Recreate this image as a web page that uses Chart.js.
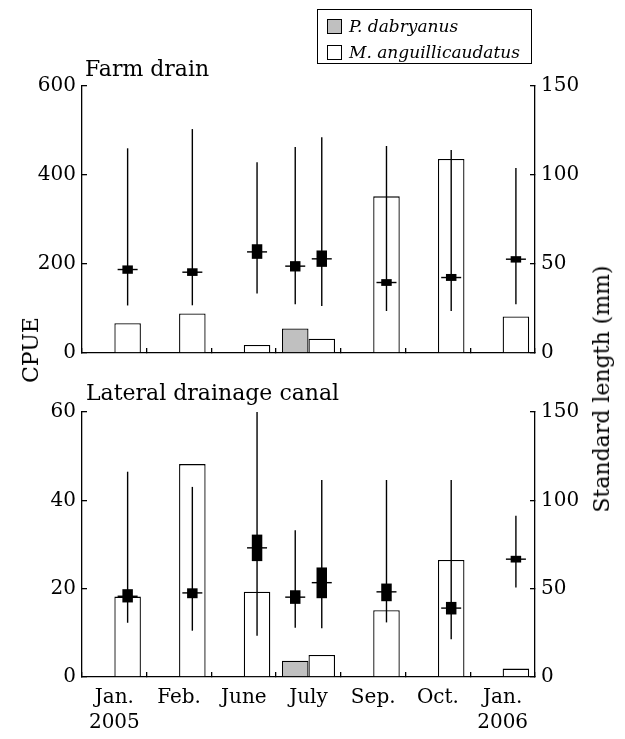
<!DOCTYPE html>
<html>
<head>
<meta charset="utf-8">
<script src="https://cdn.jsdelivr.net/npm/chart.js@4.4.1/dist/chart.umd.min.js"></script>
<style>
  body { margin: 0; background: #fff; }
  #wrap { position: relative; width: 625px; height: 739px; font-family: "DejaVu Serif", serif; color: #000; overflow: hidden; }
  #wrap canvas { position: absolute; left: 0; }
  .panel-title { position: absolute; font-size: 22px; line-height: 22px; white-space: nowrap; }
  .axis-title { position: absolute; font-size: 22px; line-height: 22px; white-space: nowrap;
    transform: translate(-50%, -50%) rotate(-90deg); }
  .legend { position: absolute; left: 317px; top: 9px; width: 213px; height: 53px; border: 1px solid #000; }
  .legend .row { position: absolute; left: 9px; height: 20px; display: flex; align-items: center;
    font-style: italic; font-size: 17px; white-space: nowrap; }
  .legend .sw { display: inline-block; width: 13px; height: 13px; border: 1px solid #000; margin-right: 7px; }
</style>
</head>
<body>
<div id="wrap">
  <canvas id="farm" width="625" height="377" style="top:0"></canvas>
  <canvas id="lateral" width="625" height="379" style="top:360px"></canvas>
  <div class="panel-title" style="left:85px; top:58px">Farm drain</div>
  <div class="panel-title" style="left:86px; top:382px">Lateral drainage canal</div>
  <div class="axis-title" style="left:31px; top:350px">CPUE</div>
  <div class="axis-title" style="left:602px; top:389px">Standard length (mm)</div>
  <div class="legend" id="legend"></div>
</div>
<script>
// categories + species
const months = [["Jan.", "2005"], "Feb.", "June", "July", "Sep.", "Oct.", ["Jan.", "2006"]];
const speciesNames = ["P. dabryanus", "M. anguillicaudatus"];
const speciesFill = ["#c0c0c0", "#ffffff"];

// Farm drain: CPUE
const farmCpueP = [null, null, null, 55, null, null, null];
const farmCpueM = [67, 89, 18, 32, 352, 436, 82];
// Farm drain: standard length (mm) - range, box, mean
const farmMinP  = [null, null, null, 27.4, null, null, null];
const farmMaxP  = [null, null, null, 115.7, null, null, null];
const farmLoP   = [null, null, null, 45.8, null, null, null];
const farmHiP   = [null, null, null, 51.6, null, null, null];
const farmMeanP = [null, null, null, 48.8, null, null, null];
const farmMinM  = [26.7, 26.8, 33.4, 26.4, 23.6, 23.6, 27.4];
const farmMaxM  = [115, 125.8, 107.1, 121.2, 116.3, 114, 103.9];
const farmLoM   = [44.5, 43.3, 52.9, 48.4, 37.7, 40.5, 50.8];
const farmHiM   = [49.2, 47.6, 61.1, 57.6, 41.5, 44.4, 54.4];
const farmMeanM = [46.9, 45.4, 56.8, 52.9, 39.6, 42.4, 52.7];

// Lateral drainage canal: CPUE
const latCpueP = [null, null, null, 3.7, null, null, null];
const latCpueM = [18.2, 48.2, 19.3, 5.0, 15.1, 26.5, 1.9];
// Lateral drainage canal: standard length (mm)
const latMinP  = [null, null, null, 27.9, null, null, null];
const latMaxP  = [null, null, null, 83, null, null, null];
const latLoP   = [null, null, null, 41.4, null, null, null];
const latHiP   = [null, null, null, 49.1, null, null, null];
const latMeanP = [null, null, null, 45.2, null, null, null];
const latMinM  = [30.7, 26.2, 23.4, 27.6, 30.9, 21.4, 50.6];
const latMaxM  = [116.2, 107.6, 150, 111.5, 111.5, 111.5, 91.3];
const latLoM   = [42.2, 44.6, 65.6, 44.6, 42.9, 35.4, 64.8];
const latHiM   = [49.7, 50.2, 80.6, 62, 52.9, 42.5, 68.6];
const latMeanM = [45.7, 47.6, 73.1, 53.4, 48.2, 39, 66.7];

Chart.defaults.font.family = "'DejaVu Serif', serif";
Chart.defaults.font.size = 20;
Chart.defaults.color = "#000";

const CAT_PCT = 0.82;
const AXIS_W = 1.3;

// legend
const legend = document.getElementById("legend");
speciesNames.forEach((name, i) => {
  const row = document.createElement("div");
  row.className = "row";
  row.style.top = (6 + i * 26) + "px";
  row.innerHTML = `<span class="sw" style="background:${speciesFill[i]}"></span>${name}`;
  legend.appendChild(row);
});

function cpueSet(stack, data, fill) {
  return {
    data, stack, yAxisID: "y", order: 3,
    backgroundColor: fill, borderColor: "#000", borderWidth: 1.3, borderSkipped: "start",
    categoryPercentage: CAT_PCT, barPercentage: 1,
  };
}

// length markers: thin range line, black box, mean tick
function markerSets(stack, mins, maxs, los, his, means) {
  const rng = mins.map((v, i) => (v == null ? null : [v, maxs[i]]));
  const box = los.map((v, i) => (v == null ? null : [v, his[i]]));
  const tick = means.map((v) => (v == null ? null : [v - 0.4, v + 0.4]));
  return [
    { data: rng, maxBarThickness: 1.4, order: 2 },
    { data: box, maxBarThickness: 10.5, order: 1 },
    { data: tick, maxBarThickness: 20, order: 0 },
  ].map((d) => Object.assign(d, {
    stack, yAxisID: "y2", backgroundColor: "#000", borderWidth: 0,
    categoryPercentage: CAT_PCT, barPercentage: 1,
  }));
}

function yAxis(pos, max, step, width) {
  return {
    position: pos, min: 0, max, stacked: false,
    ticks: { stepSize: step, padding: 11, color: "#000" },
    grid: { drawOnChartArea: false, tickLength: -5, color: "#000", lineWidth: AXIS_W },
    border: { color: "#000", width: AXIS_W },
    afterFit: (s) => { s.width = width; },
  };
}

function makePanel(id, padTop, xHeight, showLabels, cpueMax, cpueStep, datasets) {
  return new Chart(document.getElementById(id), {
    type: "bar",
    data: { labels: months, datasets },
    options: {
      responsive: false,
      animation: false,
      events: [],
      layout: { padding: { top: padTop, left: 0, right: 0, bottom: 0 } },
      plugins: { legend: { display: false }, tooltip: { enabled: false } },
      scales: {
        x: {
          offset: true,
          ticks: { display: showLabels, padding: 13, maxRotation: 0, autoSkip: false,
                   font: { size: 20, lineHeight: 1.25 } },
          grid: { offset: true, drawOnChartArea: false, tickLength: -5, color: "#000", lineWidth: AXIS_W },
          border: { color: "#000", width: AXIS_W },
          afterFit: (s) => { s.height = xHeight; },
        },
        y: yAxis("left", cpueMax, cpueStep, 82),
        y2: yAxis("right", 150, 50, 90),
      },
    },
  });
}

makePanel("farm", 86, 24, false, 600, 200, [
  cpueSet("P", farmCpueP, speciesFill[0]),
  cpueSet("M", farmCpueM, speciesFill[1]),
  ...markerSets("P", farmMinP, farmMaxP, farmLoP, farmHiP, farmMeanP),
  ...markerSets("M", farmMinM, farmMaxM, farmLoM, farmHiM, farmMeanM),
]);

makePanel("lateral", 52, 62, true, 60, 20, [
  cpueSet("P", latCpueP, speciesFill[0]),
  cpueSet("M", latCpueM, speciesFill[1]),
  ...markerSets("P", latMinP, latMaxP, latLoP, latHiP, latMeanP),
  ...markerSets("M", latMinM, latMaxM, latLoM, latHiM, latMeanM),
]);
</script>
</body>
</html>
